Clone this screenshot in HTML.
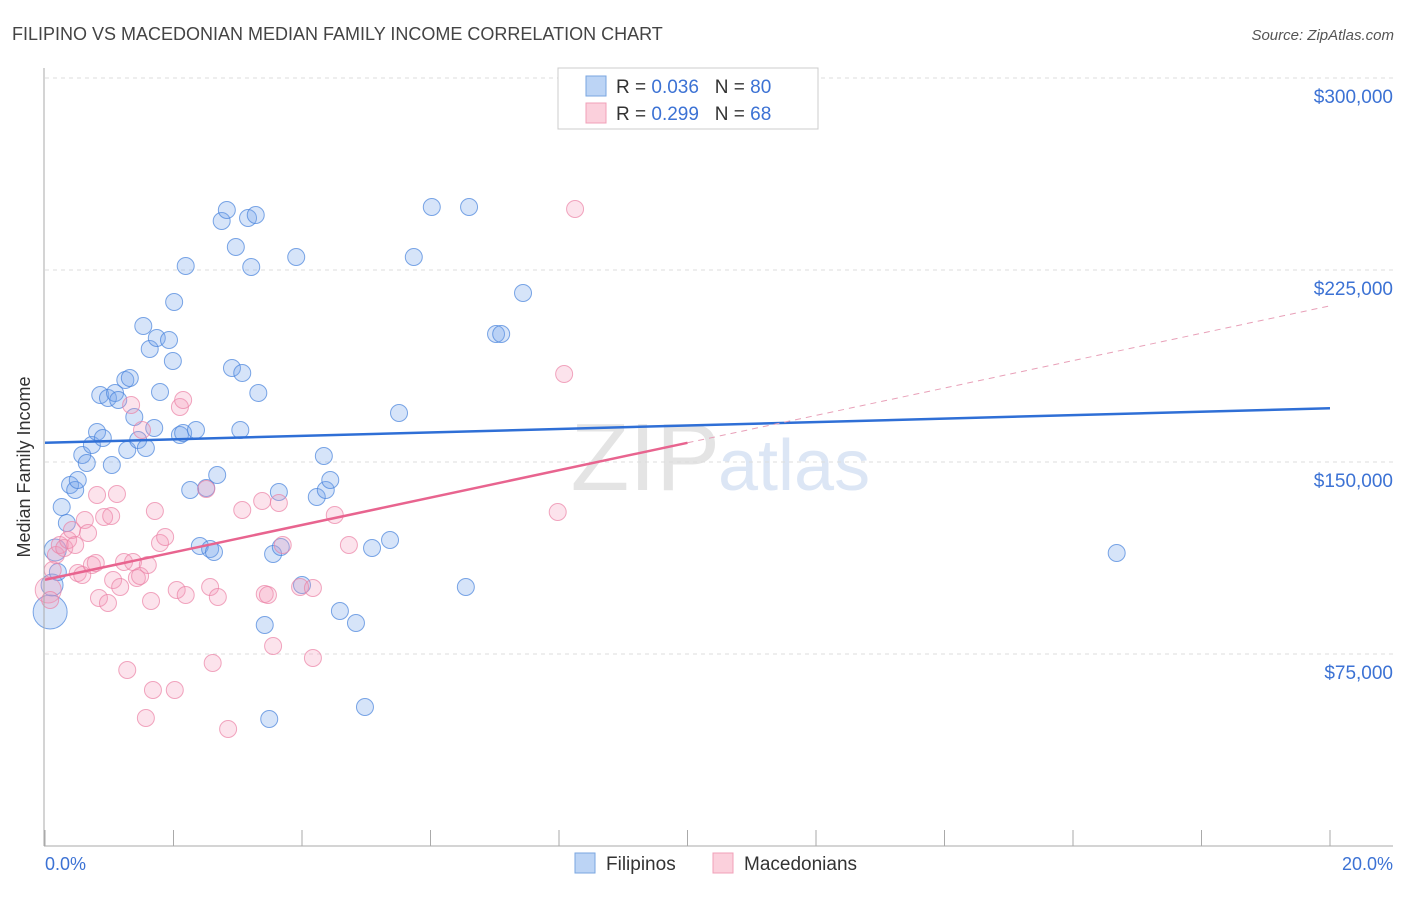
<!DOCTYPE html>
<html><head><meta charset="utf-8"><style>
body{margin:0;background:#fff;font-family:"Liberation Sans",sans-serif}
svg text{font-family:"Liberation Sans",sans-serif}
</style></head><body>
<svg id="c" width="1406" height="892" xmlns="http://www.w3.org/2000/svg">
<text x="12" y="40" font-size="18" fill="#444">FILIPINO VS MACEDONIAN MEDIAN FAMILY INCOME CORRELATION CHART</text>
<text x="1394" y="40" font-size="15" fill="#555" text-anchor="end" font-style="italic">Source: ZipAtlas.com</text>
<text x="720" y="490" font-size="96" fill="#e4e4e4" text-anchor="end" font-family="Liberation Serif">ZIP</text>
<text x="718" y="490" font-size="72" fill="#dce6f5">atlas</text>
<g id="grid"></g><g id="pts"></g><g id="lines"></g>
<line x1="44" y1="68" x2="44" y2="846" stroke="#aaa"/>
<line x1="44" y1="846" x2="1393" y2="846" stroke="#aaa"/>
<text x="18" y="455" font-size="18" fill="#333" text-anchor="middle" transform="rotate(-90 30 455)">Median Family Income</text>
<text x="45" y="870" font-size="18" fill="#3c72d4">0.0%</text>
<text x="1393" y="870" font-size="18" fill="#3c72d4" text-anchor="end">20.0%</text>
<g>
<rect x="558" y="68" width="260" height="61" fill="#fff" stroke="#ccc"/>
<rect x="586" y="76" width="20" height="20" fill="#bcd4f5" stroke="#7aa6e0"/>
<rect x="586" y="103" width="20" height="20" fill="#fbd0dc" stroke="#f0a0b8"/>
<text x="616" y="93" font-size="19" fill="#333">R = <tspan fill="#3c72d4">0.036</tspan>&#160;&#160;&#160;N = <tspan fill="#3c72d4">80</tspan></text>
<text x="616" y="120" font-size="19" fill="#333">R = <tspan fill="#3c72d4">0.299</tspan>&#160;&#160;&#160;N = <tspan fill="#3c72d4">68</tspan></text>
</g>
<g>
<rect x="575" y="853" width="20" height="20" fill="#bcd4f5" stroke="#7aa6e0"/>
<text x="606" y="870" font-size="19" fill="#333">Filipinos</text>
<rect x="713" y="853" width="20" height="20" fill="#fbd0dc" stroke="#f0a0b8"/>
<text x="744" y="870" font-size="19" fill="#333">Macedonians</text>
</g>
</svg>
<script>
const yTicks=[75000,150000,225000,300000];
const yTickLabels=["$75,000","$150,000","$225,000","$300,000"];
const xTicks=[0,2,4,6,8,10,12,14,16,18,20];
const bluePx=[[50,612],[52,585],[55,550],[58,572],[62,507],[67,523],[70,485],[75,490],[78,480],[82,455],[87,463],[92,445],[97,432],[103,438],[112,465],[100,395],[108,398],[115,393],[118,400],[125,380],[130,378],[127,450],[134,417],[138,440],[143,326],[146,448],[150,349],[154,428],[157,338],[160,392],[169,340],[173,361],[174,302],[180,435],[183,433],[186,266],[190,490],[196,430],[200,546],[206,488],[210,549],[214,552],[217,475],[222,221],[227,210],[232,368],[236,247],[240,430],[242,373],[248,218],[251,267],[256,215],[258,393],[265,625],[269,719],[273,554],[279,492],[281,547],[296,257],[302,585],[317,497],[324,456],[326,490],[330,480],[340,611],[356,623],[365,707],[372,548],[390,540],[399,413],[414,257],[432,207],[466,587],[469,207],[496,334],[501,334],[523,293],[1117,553]];
const pinkPx=[[48,590],[50,600],[53,570],[56,555],[60,545],[64,548],[68,540],[72,530],[75,545],[78,573],[82,575],[85,520],[88,533],[92,565],[96,563],[99,598],[97,495],[104,517],[108,603],[111,516],[113,580],[117,494],[120,587],[124,562],[127,670],[131,405],[133,562],[137,578],[140,576],[142,430],[146,718],[148,565],[151,601],[153,690],[155,511],[160,543],[165,537],[175,690],[177,590],[180,407],[183,400],[186,595],[206,489],[210,587],[213,663],[218,597],[228,729],[242,510],[262,501],[265,594],[268,595],[273,646],[279,503],[283,545],[300,587],[313,658],[313,588],[335,515],[349,545],[558,512],[564,374],[575,209]];
const filPct=bluePx.map(p=>+((p[0]-45)/64.25).toFixed(2));
const filInc=bluePx.map(p=>Math.round(300000-(p[1]-78)/192*75000));
const macPct=pinkPx.map(p=>+((p[0]-45)/64.25).toFixed(2));
const macInc=pinkPx.map(p=>Math.round(300000-(p[1]-78)/192*75000));
const blueTrend=[[0,157500],[20,171000]];
const pinkTrend=[[0,104000],[10,157500],[20,211000]];
const X=v=>45+v*64.25, Y=v=>78+(300000-v)/75000*192;
const NS="http://www.w3.org/2000/svg";
function mk(tag,attrs,parent){const e=document.createElementNS(NS,tag);for(const k in attrs)e.setAttribute(k,attrs[k]);document.getElementById(parent).appendChild(e);return e;}
yTicks.forEach((t,i)=>{
 const l=mk('line',{x1:45,x2:1393,y1:Y(t),y2:Y(t),stroke:'#ddd','stroke-dasharray':'4,4'},'grid');
 
 
 const tx=mk('text',{x:1393,y:Y(t)+25,'font-size':19,fill:'#3c72d4','text-anchor':'end'},'grid');
 tx.textContent=yTickLabels[i];
 
 
});
xTicks.forEach(t=>{
 const l=mk('line',{x1:X(t),x2:X(t),y1:830,y2:846,stroke:'#aaa'},'grid');
 
 
});
filPct.forEach((p,i)=>{
 const c=mk('circle',{cx:X(p),cy:Y(filInc[i]),r:i==0?17:(i<3?11:8.5),fill:'rgba(120,165,235,0.3)',stroke:'rgba(70,130,220,0.7)','stroke-width':1},'pts');
 
 
});
macPct.forEach((p,i)=>{
 const c=mk('circle',{cx:X(p),cy:Y(macInc[i]),r:i==0?13:8.5,fill:'rgba(245,155,185,0.28)',stroke:'rgba(235,130,165,0.7)','stroke-width':1},'pts');
 
 
});
let b=mk('line',{x1:X(blueTrend[0][0]),y1:Y(blueTrend[0][1]),x2:X(blueTrend[1][0]),y2:Y(blueTrend[1][1]),stroke:'#2f6fd6','stroke-width':2.5},'lines');


let p1=mk('line',{x1:X(pinkTrend[0][0]),y1:Y(pinkTrend[0][1]),x2:X(pinkTrend[1][0]),y2:Y(pinkTrend[1][1]),stroke:'#e8648f','stroke-width':2.5},'lines');


let p2=mk('line',{x1:X(pinkTrend[1][0]),y1:Y(pinkTrend[1][1]),x2:X(pinkTrend[2][0]),y2:Y(pinkTrend[2][1]),stroke:'#e8a0b8','stroke-width':1,'stroke-dasharray':'6,5'},'lines');


</script>
</body></html>
